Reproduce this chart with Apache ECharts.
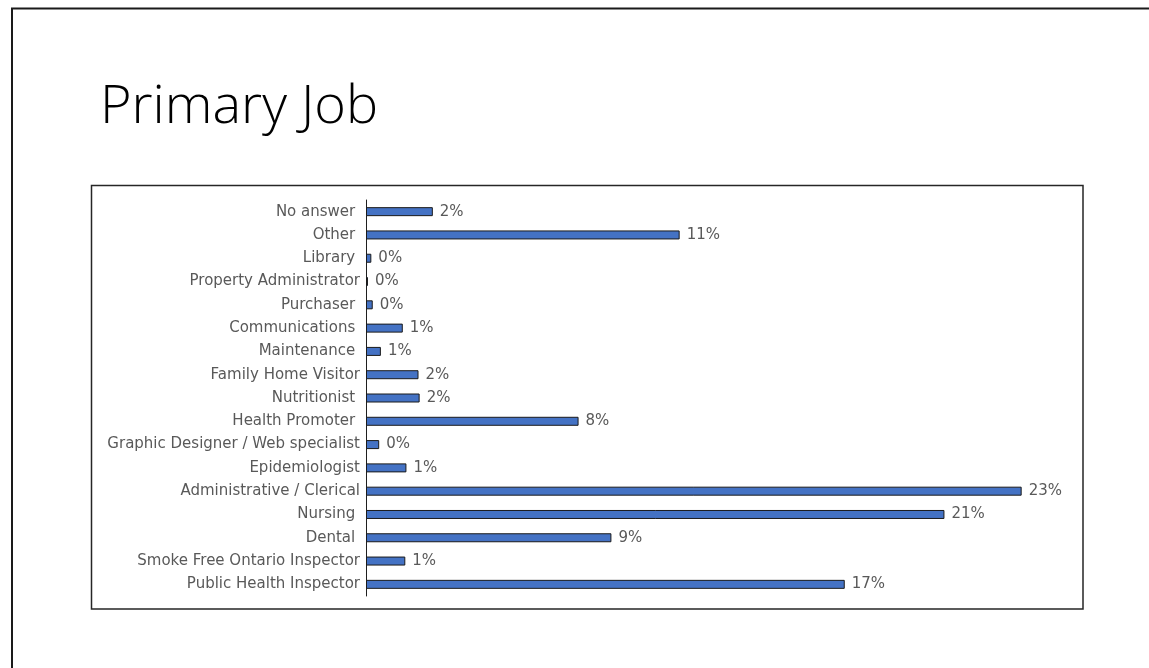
<!DOCTYPE html>
<html>
<head>
<meta charset="utf-8">
<script src="https://cdn.jsdelivr.net/npm/echarts@6/dist/echarts.min.js"></script>
<style>
  html, body { margin: 0; padding: 0; background: #ffffff; }
  #chart { width: 1149px; height: 668px; }
</style>
</head>
<body>
<div id="chart"></div>
<script>
// Job categories, listed top to bottom (some carry a trailing space)
const categories = [
  'No answer ',
  'Other ',
  'Library ',
  'Property Administrator',
  'Purchaser ',
  'Communications ',
  'Maintenance ',
  'Family Home Visitor',
  'Nutritionist ',
  'Health Promoter ',
  'Graphic Designer / Web specialist',
  'Epidemiologist',
  'Administrative / Clerical',
  'Nursing ',
  'Dental ',
  'Smoke Free Ontario Inspector',
  'Public Health Inspector'
];

// Share of respondents (percent)
const shares = [
  2.38, 11.17, 0.19, 0.07, 0.24, 1.31, 0.53, 1.87, 1.91,
  7.57, 0.47, 1.44, 23.35, 20.60, 8.74, 1.40, 17.05
];

const chartTitle = 'Primary Job';

const chart = echarts.init(document.getElementById('chart'), null, { renderer: 'canvas' });

const labelFont = '"DejaVu Sans", "Open Sans", sans-serif';

chart.setOption({
  animation: false,
  backgroundColor: '#ffffff',
  title: {
    text: chartTitle,
    left: 95,
    top: 76,
    textStyle: {
      fontFamily: '"Open Sans", "Lato", sans-serif',
      fontWeight: 300,
      fontSize: 54,
      color: '#000000'
    }
  },
  graphic: [
    {
      // slide frame
      type: 'rect',
      shape: { x: 12, y: 8.5, width: 1200, height: 700 },
      style: { fill: 'none', stroke: '#1a1a1a', lineWidth: 2 },
      silent: true
    },
    {
      // chart frame
      type: 'rect',
      shape: { x: 91.5, y: 185.5, width: 991.5, height: 423.5 },
      style: { fill: 'none', stroke: '#262626', lineWidth: 1.5 },
      silent: true
    }
  ],
  grid: {
    left: 366,
    right: 81,
    top: 200,
    bottom: 72,
    containLabel: false
  },
  xAxis: {
    type: 'value',
    min: 0,
    max: 25,
    show: false
  },
  yAxis: {
    type: 'category',
    data: categories,
    inverse: true,
    axisLine: { show: true, lineStyle: { color: '#1f1f1f', width: 1 } },
    axisTick: { show: false },
    axisLabel: {
      margin: 6,
      color: '#595959',
      fontFamily: labelFont,
      fontSize: 15,
      interval: 0
    }
  },
  series: [
    {
      type: 'bar',
      data: shares,
      barWidth: 9,
      itemStyle: {
        color: '#4472C4',
        borderColor: '#1a1a1a',
        borderWidth: 1
      },
      label: {
        show: true,
        position: 'right',
        distance: 7,
        color: '#595959',
        fontFamily: labelFont,
        fontSize: 15,
        formatter: p => Math.round(p.value) + '%'
      }
    }
  ]
});
</script>
</body>
</html>
